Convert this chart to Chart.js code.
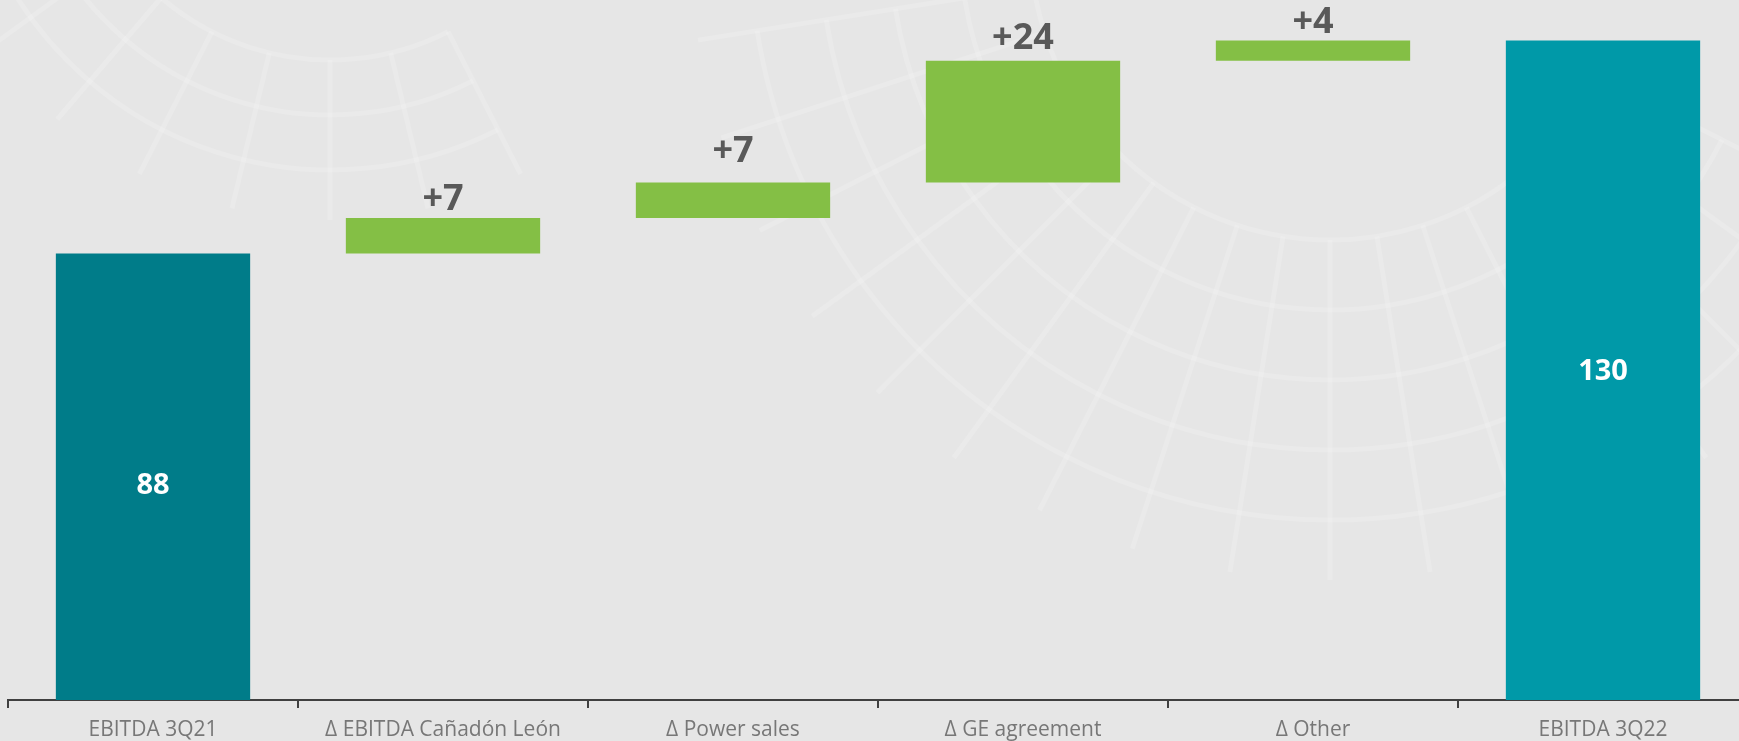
<!DOCTYPE html>
<html>
<head>
<meta charset="utf-8">
<script src="https://cdn.jsdelivr.net/npm/chart.js@4/dist/chart.umd.min.js"></script>
<style>
  html, body { margin: 0; padding: 0; background: #e6e6e6; overflow: hidden; }
  #wrap { width: 1748px; height: 741px; position: relative; }
</style>
</head>
<body>
<div id="wrap"><canvas id="c"></canvas></div>
<script>
const categories = ["EBITDA 3Q21", "Δ EBITDA Cañadón León", "Δ Power sales", "Δ GE agreement", "Δ Other", "EBITDA 3Q22"];
const values = [88, 7, 7, 24, 4, 130];
const kinds = ["total", "delta", "delta", "delta", "delta", "total"];
const yMax = 138;

// styling (not data)
const barColors = ["#007c89", "#84bf45", "#84bf45", "#84bf45", "#84bf45", "#0099a8"];
// totals: downward shift from bar centre; deltas: gap above bar top
const labelOffsets = [9, 8, 21, 12, 8, 1];

// floating ranges built from the values
const ranges = [];
let running = 0;
values.forEach((v, i) => {
  if (kinds[i] === "total") { ranges.push([0, v]); running = v; }
  else { ranges.push([running, running + v]); running += v; }
});

const bgPattern = {
  id: 'bgPattern',
  beforeDraw(chart) {
    const ctx = chart.ctx;
    ctx.save();
    ctx.fillStyle = '#e6e6e6';
    ctx.fillRect(0, 0, chart.width, chart.height);
    const drawWheel = (cx, cy, r0, r1, step, a0, a1, nRad) => {
      ctx.strokeStyle = 'rgba(255,255,255,0.16)';
      ctx.lineWidth = 5;
      for (let r = r0; r <= r1; r += step) {
        ctx.beginPath(); ctx.arc(cx, cy, r, a0, a1); ctx.stroke();
      }
      for (let k = 0; k <= nRad; k++) {
        const a = a0 + (a1 - a0) * k / nRad;
        ctx.beginPath();
        ctx.moveTo(cx + r0 * Math.cos(a), cy + r0 * Math.sin(a));
        ctx.lineTo(cx + r1 * Math.cos(a), cy + r1 * Math.sin(a));
        ctx.stroke();
      }
    };
    drawWheel(1330, -60, 300, 640, 70, Math.PI * 0.15, Math.PI * 0.95, 16);
    drawWheel(330, -200, 260, 420, 55, Math.PI * 0.35, Math.PI * 0.95, 8);
    ctx.restore();
  }
};

const labelPlugin = {
  id: 'barLabels',
  afterDatasetsDraw(chart) {
    const ctx = chart.ctx;
    const meta = chart.getDatasetMeta(0);
    ctx.save();
    ctx.textAlign = 'center';
    meta.data.forEach((bar, i) => {
      const p = bar.getProps(['x', 'y', 'base'], true);
      if (kinds[i] === 'total') {
        ctx.fillStyle = '#ffffff';
        ctx.font = 'bold 29px "Open Sans"';
        ctx.textBaseline = 'middle';
        ctx.fillText(String(values[i]), p.x, (p.y + p.base) / 2 + labelOffsets[i]);
      } else {
        ctx.fillStyle = '#595959';
        ctx.font = 'bold 36px "Open Sans"';
        ctx.textBaseline = 'alphabetic';
        const top = Math.min(p.y, p.base);
        ctx.fillText('+' + values[i], p.x, top - labelOffsets[i]);
      }
    });
    ctx.restore();
  }
};

new Chart(document.getElementById('c'), {
  type: 'bar',
  data: {
    labels: categories,
    datasets: [{
      data: ranges,
      backgroundColor: barColors,
      borderWidth: 0,
      borderSkipped: false,
      barPercentage: 0.67,
      categoryPercentage: 1.0
    }]
  },
  options: {
    responsive: true,
    maintainAspectRatio: false,
    animation: false,
    layout: { padding: { left: 8, right: 0, top: 0, bottom: 0 } },
    plugins: { legend: { display: false }, tooltip: { enabled: false } },
    scales: {
      x: {
        afterFit(scale) { scale.height = 41; },
        grid: { display: true, offset: true, drawOnChartArea: false, drawTicks: true, tickLength: 8, color: '#404040', lineWidth: 2 },
        border: { display: true, color: '#404040', width: 2 },
        ticks: { color: '#777777', font: { family: 'Open Sans', size: 21 }, padding: 9, maxRotation: 0 }
      },
      y: {
        display: false,
        min: 0,
        max: yMax
      }
    }
  },
  plugins: [bgPattern, labelPlugin]
});
</script>
</body>
</html>
